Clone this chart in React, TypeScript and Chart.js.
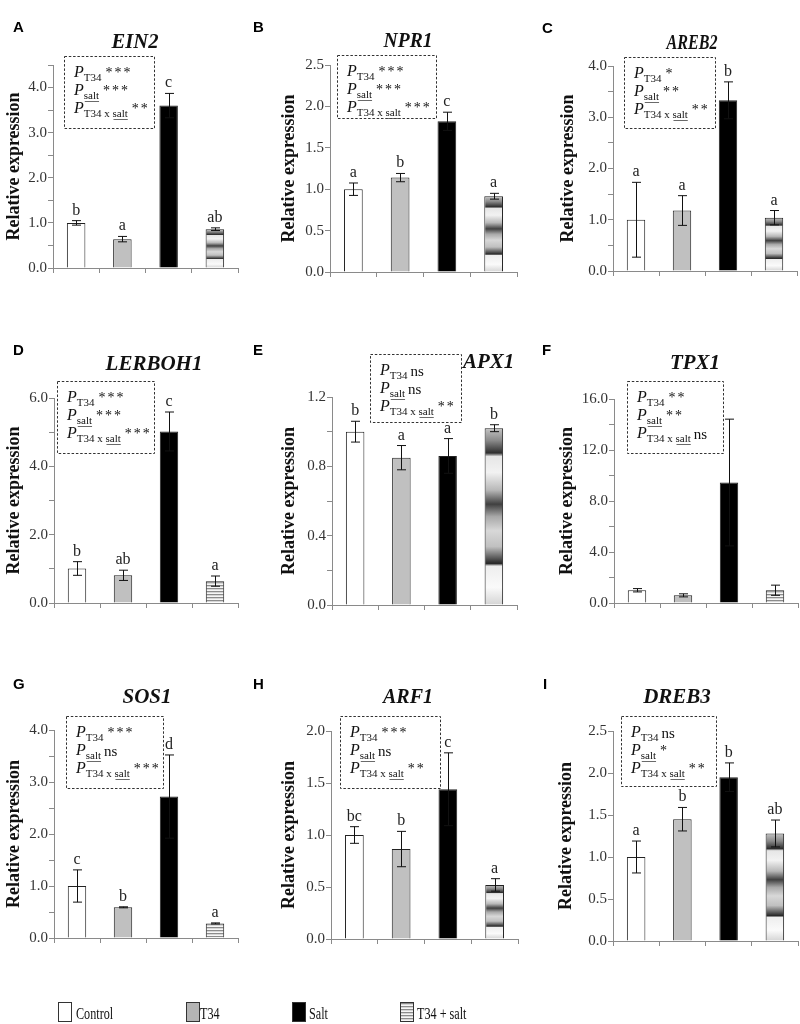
import React, { useEffect, useRef } from "react";
import { Chart, registerables } from "chart.js";

Chart.register(...registerables);

// ---------------- DATA ----------------
const conditions = ["Control", "T34", "Salt", "T34 + salt"];
const pLabels = ["T34", "salt", "T34 x salt"];

const ein2Mean = [1.0, 0.64, 3.6, 0.86];
const ein2Err = [0.05, 0.06, 0.27, 0.03];
const ein2Letters = ["b", "a", "c", "ab"];
const ein2Signif = ["***", "***", "**"];

const npr1Mean = [1.0, 1.14, 1.82, 0.915];
const npr1Err = [0.075, 0.05, 0.11, 0.035];
const npr1Letters = ["a", "b", "c", "a"];
const npr1Signif = ["***", "***", "***"];

const areb2Mean = [1.0, 1.18, 3.33, 1.04];
const areb2Err = [0.73, 0.29, 0.36, 0.14];
const areb2Letters = ["a", "a", "b", "a"];
const areb2Signif = ["*", "**", "**"];

const lerboh1Mean = [1.01, 0.81, 5.02, 0.64];
const lerboh1Err = [0.2, 0.15, 0.57, 0.15];
const lerboh1Letters = ["b", "ab", "c", "a"];
const lerboh1Signif = ["***", "***", "***"];

const apx1Mean = [1.0, 0.85, 0.86, 1.02];
const apx1Err = [0.06, 0.07, 0.1, 0.02];
const apx1Letters = ["b", "a", "a", "b"];
const apx1Signif = ["ns", "ns", "**"];

const tpx1Mean = [1.0, 0.6, 9.45, 1.0];
const tpx1Err = [0.13, 0.12, 4.97, 0.4];
const tpx1Letters = ["", "", "", ""];
const tpx1Signif = ["**", "**", "ns"];

const sos1Mean = [1.0, 0.59, 2.72, 0.28];
const sos1Err = [0.31, 0.01, 0.8, 0.01];
const sos1Letters = ["c", "b", "d", "a"];
const sos1Signif = ["***", "ns", "***"];

const arf1Mean = [1.0, 0.865, 1.44, 0.52];
const arf1Err = [0.08, 0.17, 0.35, 0.06];
const arf1Letters = ["bc", "b", "c", "a"];
const arf1Signif = ["***", "ns", "**"];

const dreb3Mean = [1.0, 1.45, 1.95, 1.28];
const dreb3Err = [0.19, 0.14, 0.17, 0.16];
const dreb3Letters = ["a", "b", "b", "ab"];
const dreb3Signif = ["ns", "*", "**"];

// y axis: [max, step, label every]
const ein2Axis = [4.5, 0.5, 1.0];
const npr1Axis = [2.5, 0.5, 0.5];
const areb2Axis = [4.0, 0.5, 1.0];
const lerboh1Axis = [6.0, 1.0, 2.0];
const apx1Axis = [1.2, 0.2, 0.4];
const tpx1Axis = [16, 2, 4];
const sos1Axis = [4.0, 0.5, 1.0];
const arf1Axis = [2.0, 0.5, 0.5];
const dreb3Axis = [2.5, 0.5, 0.5];

// ---------------- LAYOUT ----------------
type Geo = {
  left: number; right: number; top: number; bottom: number; titleX: number;
  letter: [string, number, number];
  title: [string, number, number, number, string];
  box: [number, number, number, number];
};

const panels = [
  { mean: ein2Mean, err: ein2Err, letters: ein2Letters, sig: ein2Signif, axis: ein2Axis,
    geo: { left: 53, right: 238, top: 65, bottom: 268, titleX: 14, letter: ["A", 13, 32], title: ["EIN2", 135, 48, 47, "center"], box: [64, 56, 154, 128] } },
  { mean: npr1Mean, err: npr1Err, letters: npr1Letters, sig: npr1Signif, axis: npr1Axis,
    geo: { left: 330, right: 517, top: 65, bottom: 272, titleX: 289, letter: ["B", 253, 32], title: ["NPR1", 408, 47, 49, "center"], box: [337, 55, 436, 118] } },
  { mean: areb2Mean, err: areb2Err, letters: areb2Letters, sig: areb2Signif, axis: areb2Axis,
    geo: { left: 613, right: 797, top: 66, bottom: 271, titleX: 568, letter: ["C", 542, 33], title: ["AREB2", 692, 49, 51, "center"], box: [624, 57, 715, 128] } },
  { mean: lerboh1Mean, err: lerboh1Err, letters: lerboh1Letters, sig: lerboh1Signif, axis: lerboh1Axis,
    geo: { left: 54, right: 238, top: 398, bottom: 603, titleX: 14, letter: ["D", 13, 355], title: ["LERBOH1", 154, 370, 101, "center"], box: [57, 381, 154, 453] } },
  { mean: apx1Mean, err: apx1Err, letters: apx1Letters, sig: apx1Signif, axis: apx1Axis,
    geo: { left: 332, right: 517, top: 397, bottom: 605, titleX: 289, letter: ["E", 253, 355], title: ["APX1", 463, 368, 52, "left"], box: [370, 354, 461, 422] } },
  { mean: tpx1Mean, err: tpx1Err, letters: tpx1Letters, sig: tpx1Signif, axis: tpx1Axis,
    geo: { left: 614, right: 798, top: 399, bottom: 603, titleX: 567, letter: ["F", 542, 355], title: ["TPX1", 695, 369, 50, "center"], box: [627, 381, 723, 453] } },
  { mean: sos1Mean, err: sos1Err, letters: sos1Letters, sig: sos1Signif, axis: sos1Axis,
    geo: { left: 54, right: 238, top: 730, bottom: 938, titleX: 14, letter: ["G", 13, 689], title: ["SOS1", 147, 703, 51, "center"], box: [66, 716, 163, 788] } },
  { mean: arf1Mean, err: arf1Err, letters: arf1Letters, sig: arf1Signif, axis: arf1Axis,
    geo: { left: 331, right: 518, top: 731, bottom: 939, titleX: 289, letter: ["H", 253, 689], title: ["ARF1", 408, 703, 50, "center"], box: [340, 716, 440, 788] } },
  { mean: dreb3Mean, err: dreb3Err, letters: dreb3Letters, sig: dreb3Signif, axis: dreb3Axis,
    geo: { left: 613, right: 798, top: 731, bottom: 941, titleX: 566, letter: ["I", 543, 689], title: ["DREB3", 677, 703, 70, "center"], box: [621, 716, 716, 786] } },
];

const SERIF = '"Liberation Serif", "Times New Roman", serif';
const SANS = '"Liberation Sans", Arial, sans-serif';
const AXIS_TITLE_SIZE = 18;

let stripeCanvas: HTMLCanvasElement | null = null;
function stripePattern(ctx: CanvasRenderingContext2D) {
  if (!stripeCanvas) {
    stripeCanvas = document.createElement("canvas");
    stripeCanvas.width = 4;
    stripeCanvas.height = 3;
    const c = stripeCanvas.getContext("2d")!;
    c.fillStyle = "#8c8c8c"; c.fillRect(0, 0, 4, 1);
    c.fillStyle = "#d6d6d6"; c.fillRect(0, 1, 4, 1);
    c.fillStyle = "#f6f6f6"; c.fillRect(0, 2, 4, 1);
  }
  return ctx.createPattern(stripeCanvas, "repeat");
}

function mixedFill(c: any) {
  const chart = c.chart;
  const ys = chart.scales && chart.scales.y;
  if (!ys) return "#cccccc";
  const top = ys.getPixelForValue(c.raw);
  const base = ys.getPixelForValue(0);
  if (!isFinite(top) || !isFinite(base) || base - top < 1) return "#cccccc";
  if (base - top < 30) return stripePattern(chart.ctx) || "#cccccc";
  const g = chart.ctx.createLinearGradient(0, top, 0, base);
  const stops: [number, string][] = [
    [0, "#c4c4c4"], [0.07, "#8a8a8a"], [0.14, "#2e2e2e"], [0.16, "#e6e6e6"],
    [0.25, "#f2f2f2"], [0.35, "#b8b8b8"], [0.43, "#404040"], [0.5, "#a8a8a8"],
    [0.58, "#d8d8d8"], [0.67, "#c0c0c0"], [0.73, "#606060"], [0.765, "#262626"],
    [0.78, "#eeeeee"], [0.9, "#fafafa"], [1, "#d4d4d4"],
  ];
  stops.forEach(([o, col]) => g.addColorStop(o, col));
  return g;
}

const solidFills = ["#ffffff", "#c0c0c0", "#000000"];

function drawBoxLine(ctx: CanvasRenderingContext2D, x: number, y: number, sub: string, sig: string) {
  ctx.textAlign = "left";
  ctx.textBaseline = "alphabetic";
  ctx.fillStyle = "#111";
  ctx.font = `italic 16px ${SERIF}`;
  ctx.fillText("P", x, y);
  let cx = x + ctx.measureText("P").width;
  ctx.font = `11px ${SERIF}`;
  ctx.fillText(sub, cx, y + 4);
  const sw = ctx.measureText(sub).width;
  if (sub.endsWith("salt")) {
    const sx = cx + ctx.measureText(sub.slice(0, sub.length - 4)).width;
    ctx.strokeStyle = "#444";
    ctx.lineWidth = 0.8;
    ctx.beginPath();
    ctx.moveTo(sx + 1, y + 6.5);
    ctx.lineTo(cx + sw, y + 6.5);
    ctx.stroke();
  }
  cx += sw + 4;
  if (sig === "ns") {
    ctx.font = `15px ${SERIF}`;
    ctx.fillText("ns", cx - 1, y + 1);
  } else {
    ctx.font = `14px ${SERIF}`;
    for (let k = 0; k < sig.length; k++) ctx.fillText("*", cx + k * 9, y);
  }
}

function decorPlugin(p: any) {
  const geo: Geo = p.geo;
  return {
    id: "decor",
    afterDatasetsDraw(chart: any) {
      const ctx: CanvasRenderingContext2D = chart.ctx;
      const ys = chart.scales.y;
      const meta = chart.getDatasetMeta(0);
      ctx.save();
      ctx.strokeStyle = "#111";
      ctx.lineWidth = 1;
      meta.data.forEach((bar: any, i: number) => {
        const v = p.mean[i], e = p.err[i];
        const x = Math.round(bar.x) + 0.5;
        const yt = ys.getPixelForValue(v + e);
        const yb = ys.getPixelForValue(Math.max(0, v - e));
        ctx.beginPath();
        ctx.moveTo(x, yt); ctx.lineTo(x, yb);
        ctx.moveTo(x - 4.5, yt); ctx.lineTo(x + 4.5, yt);
        ctx.moveTo(x - 4.5, yb); ctx.lineTo(x + 4.5, yb);
        ctx.stroke();
        if (p.letters[i]) {
          ctx.font = `16px ${SERIF}`;
          ctx.fillStyle = "#222";
          ctx.textAlign = "center";
          ctx.textBaseline = "alphabetic";
          ctx.fillText(p.letters[i], bar.x, yt - 6);
        }
      });
      ctx.restore();
    },
    afterDraw(chart: any) {
      const ctx: CanvasRenderingContext2D = chart.ctx;
      ctx.save();
      // panel letter
      ctx.font = `bold 15px ${SANS}`;
      ctx.fillStyle = "#000";
      ctx.textAlign = "left";
      ctx.textBaseline = "alphabetic";
      ctx.fillText(geo.letter[0], geo.letter[1], geo.letter[2]);
      // gene title
      const [t, tx, ty, tw, ta] = geo.title;
      ctx.font = `bold italic 21px ${SERIF}`;
      ctx.fillStyle = "#111";
      ctx.textAlign = ta as CanvasTextAlign;
      ctx.fillText(t, tx, ty, tw);
      // dashed box
      const [bx1, by1, bx2, by2] = geo.box;
      ctx.fillStyle = "#fff";
      ctx.fillRect(bx1, by1, bx2 - bx1, by2 - by1);
      ctx.setLineDash([2.5, 1.8]);
      ctx.strokeStyle = "#333";
      ctx.lineWidth = 1;
      ctx.strokeRect(bx1 + 0.5, by1 + 0.5, bx2 - bx1, by2 - by1);
      ctx.setLineDash([]);
      const offs = [21, 39, 57];
      for (let k = 0; k < 3; k++) {
        drawBoxLine(ctx, bx1 + 10, by1 + offs[k], pLabels[k], p.sig[k]);
      }
      ctx.restore();
    },
  };
}

function Panel({ p }: { p: any }) {
  const ref = useRef<HTMLCanvasElement | null>(null);
  useEffect(() => {
    const canvas = ref.current!;
    const g: Geo = p.geo;
    const [max, step, every] = p.axis;
    const padLeft = g.titleX - (AXIS_TITLE_SIZE * 1.2) / 2;
    const yW = g.left - padLeft;
    const chart = new Chart(canvas, {
      type: "bar",
      data: {
        labels: conditions,
        datasets: [
          {
            data: p.mean,
            backgroundColor: (c: any) => (c.dataIndex === 3 ? mixedFill(c) : solidFills[c.dataIndex]),
            borderColor: "#222",
            borderWidth: 1,
            barPercentage: 0.4,
            categoryPercentage: 1,
          },
        ],
      },
      options: {
        animation: false,
        responsive: false,
        devicePixelRatio: 1,
        layout: { padding: { left: padLeft, right: 800 - g.right, top: g.top, bottom: 1024 - g.bottom - 5 } },
        plugins: { legend: { display: false }, tooltip: { enabled: false } },
        scales: {
          x: {
            grid: { display: true, drawOnChartArea: false, drawTicks: true, tickLength: 5, color: "#8a8a8a", offset: true },
            border: { color: "#8a8a8a", width: 1 },
            ticks: { display: false },
            afterFit: (s: any) => { s.height = 5; },
          },
          y: {
            min: 0,
            max: max,
            ticks: {
              stepSize: step,
              autoSkip: false,
              padding: 1,
              color: "#333",
              font: { family: SERIF, size: 15 },
              callback: (v: any) => {
                const r = Number(v) / every;
                return Math.abs(r - Math.round(r)) < 1e-6 ? Number(v).toFixed(1) : "";
              },
            },
            grid: { display: true, drawOnChartArea: false, drawTicks: true, tickLength: 5, color: "#8a8a8a" },
            border: { color: "#8a8a8a", width: 1 },
            title: {
              display: true,
              text: "Relative expression",
              color: "#111",
              padding: 0,
              font: { family: SERIF, size: AXIS_TITLE_SIZE, weight: "bold" },
            },
            afterFit: (s: any) => { s.width = yW; },
          },
        },
      },
      plugins: [decorPlugin(p)],
    } as any);
    return () => chart.destroy();
  }, []);
  return (
    <canvas
      ref={ref}
      width={800}
      height={1024}
      style={{ position: "absolute", left: 0, top: 0, width: 800, height: 1024, pointerEvents: "none" }}
    />
  );
}

const legendBoxes = [
  { x: 58, bg: "#ffffff" },
  { x: 186, bg: "#b4b4b4" },
  { x: 292, bg: "#000000" },
  { x: 400, bg: "repeating-linear-gradient(to bottom, #8c8c8c 0px, #8c8c8c 1px, #d6d6d6 1px, #d6d6d6 2px, #f6f6f6 2px, #f6f6f6 3px)" },
];
const legendTextX = [76, 200, 309, 417];

export default function App() {
  return (
    <div style={{ position: "absolute", left: 0, top: 0, width: 800, height: 1024, background: "#fff", overflow: "hidden" }}>
      {panels.map((p, i) => (
        <Panel key={i} p={p} />
      ))}
      {conditions.map((c, i) => (
        <React.Fragment key={c}>
          <div
            style={{
              position: "absolute",
              left: legendBoxes[i].x,
              top: 1002,
              width: 14,
              height: 20,
              boxSizing: "border-box",
              border: "1px solid #333",
              background: legendBoxes[i].bg,
            }}
          />
          <div
            style={{
              position: "absolute",
              left: legendTextX[i],
              top: 1006,
              fontFamily: SERIF,
              fontSize: 16,
              lineHeight: "16px",
              color: "#111",
              whiteSpace: "nowrap",
              transform: "scaleX(0.76)",
              transformOrigin: "left center",
            }}
          >
            {c}
          </div>
        </React.Fragment>
      ))}
    </div>
  );
}
